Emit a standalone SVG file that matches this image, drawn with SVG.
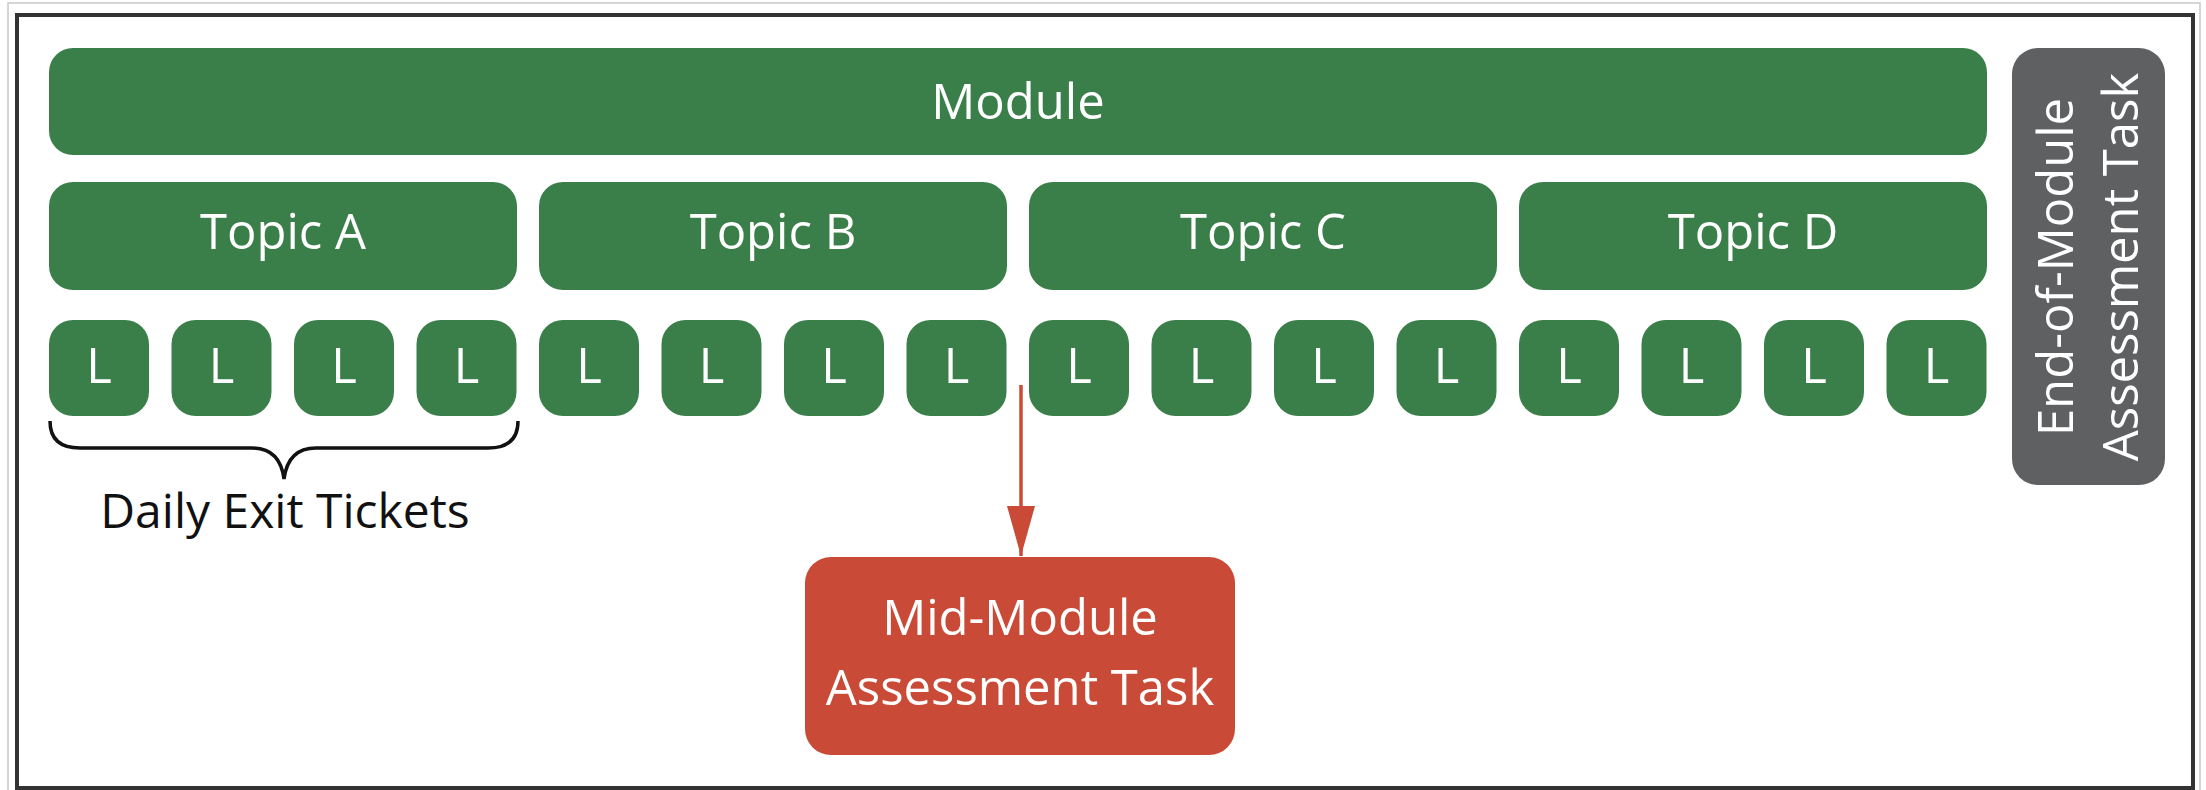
<svg xmlns="http://www.w3.org/2000/svg" width="2206" height="790" viewBox="0 0 2206 790">
<defs>
<style>
.g{fill:#3A7F4A}
.t{font-family:"Open Sans","Noto Sans",sans-serif;font-size:49px;fill:#ffffff;text-anchor:middle}
.k{font-family:"Open Sans","Noto Sans",sans-serif;font-size:48px;fill:#111111;text-anchor:middle}
</style>
<marker id="ah" markerUnits="userSpaceOnUse" markerWidth="52" markerHeight="30" refX="50" refY="14" orient="auto" viewBox="0 0 52 30">
<path d="M0,0 L50,14 L0,28 Z" fill="#C94A36"/>
</marker>
</defs>
<rect x="0" y="0" width="2206" height="790" fill="#ffffff"/>
<rect x="8" y="3" width="2192" height="795" fill="none" stroke="#c8c8c8" stroke-width="1.5"/>
<rect x="17" y="15" width="2176" height="773" fill="#ffffff" stroke="#333333" stroke-width="4"/>

<g id="module"><rect class="g" x="49" y="48" width="1938" height="107" rx="24"/><text class="t" x="1018" y="119">Module</text></g>

<g id="topicA"><rect class="g" x="49" y="182" width="468" height="108" rx="24"/><text class="t" x="283" y="249">Topic A</text></g>
<g id="topicB"><rect class="g" x="539" y="182" width="468" height="108" rx="24"/><text class="t" x="773" y="249">Topic B</text></g>
<g id="topicC"><rect class="g" x="1029" y="182" width="468" height="108" rx="24"/><text class="t" x="1263" y="249">Topic C</text></g>
<g id="topicD"><rect class="g" x="1519" y="182" width="468" height="108" rx="24"/><text class="t" x="1753" y="249">Topic D</text></g>

<g id="lessons">
<g id="L1"><rect class="g" x="49" y="320" width="100" height="96" rx="24"/><text class="t" x="99" y="383">L</text></g>
<g id="L2"><rect class="g" x="171.5" y="320" width="100" height="96" rx="24"/><text class="t" x="221.5" y="383">L</text></g>
<g id="L3"><rect class="g" x="294" y="320" width="100" height="96" rx="24"/><text class="t" x="344" y="383">L</text></g>
<g id="L4"><rect class="g" x="416.5" y="320" width="100" height="96" rx="24"/><text class="t" x="466.5" y="383">L</text></g>
<g id="L5"><rect class="g" x="539" y="320" width="100" height="96" rx="24"/><text class="t" x="589" y="383">L</text></g>
<g id="L6"><rect class="g" x="661.5" y="320" width="100" height="96" rx="24"/><text class="t" x="711.5" y="383">L</text></g>
<g id="L7"><rect class="g" x="784" y="320" width="100" height="96" rx="24"/><text class="t" x="834" y="383">L</text></g>
<g id="L8"><rect class="g" x="906.5" y="320" width="100" height="96" rx="24"/><text class="t" x="956.5" y="383">L</text></g>
<g id="L9"><rect class="g" x="1029" y="320" width="100" height="96" rx="24"/><text class="t" x="1079" y="383">L</text></g>
<g id="L10"><rect class="g" x="1151.5" y="320" width="100" height="96" rx="24"/><text class="t" x="1201.5" y="383">L</text></g>
<g id="L11"><rect class="g" x="1274" y="320" width="100" height="96" rx="24"/><text class="t" x="1324" y="383">L</text></g>
<g id="L12"><rect class="g" x="1396.5" y="320" width="100" height="96" rx="24"/><text class="t" x="1446.5" y="383">L</text></g>
<g id="L13"><rect class="g" x="1519" y="320" width="100" height="96" rx="24"/><text class="t" x="1569" y="383">L</text></g>
<g id="L14"><rect class="g" x="1641.5" y="320" width="100" height="96" rx="24"/><text class="t" x="1691.5" y="383">L</text></g>
<g id="L15"><rect class="g" x="1764" y="320" width="100" height="96" rx="24"/><text class="t" x="1814" y="383">L</text></g>
<g id="L16"><rect class="g" x="1886.5" y="320" width="100" height="96" rx="24"/><text class="t" x="1936.5" y="383">L</text></g>
</g>

<g id="endModule"><rect x="2012" y="48" width="153" height="437" rx="26" fill="#5F6062"/>
<text class="t" transform="translate(2073,267) rotate(-90)">End-of-Module</text>
<text class="t" transform="translate(2138,267) rotate(-90)">Assessment Task</text></g>

<g id="dailyExit"><path d="M50,421 Q50,448 80,448 L252,448 Q280,448 284,479 Q288,448 316,448 L488,448 Q518,448 518,421" fill="none" stroke="#111111" stroke-width="3.5"/>
<text class="k" x="285" y="528">Daily Exit Tickets</text></g>

<g id="midModule"><rect x="805" y="557" width="430" height="198" rx="26" fill="#C94A36"/>
<text class="t" x="1020" y="635">Mid-Module</text>
<text class="t" x="1020" y="705">Assessment Task</text></g>

<g id="connectors"><line x1="1021" y1="385" x2="1021" y2="556" stroke="#C94A36" stroke-width="3.5" marker-end="url(#ah)"/></g>
</svg>
